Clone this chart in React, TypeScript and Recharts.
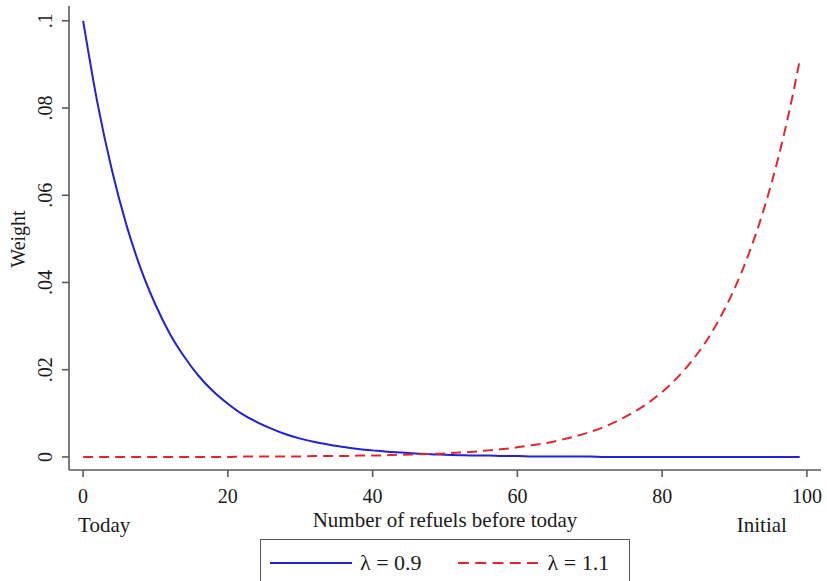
import { LineChart, Line, XAxis, YAxis, Legend } from 'recharts'

// number of refuels before today (0 = today, 99 = initial)
const refuels = [
  0, 2, 4, 6, 8, 10, 12, 14, 16, 18, 20, 22, 24, 26, 28, 30, 32, 34, 36, 38,
  40, 42, 44, 46, 48, 50, 52, 54, 56, 58, 60, 62, 64, 66, 68, 70, 72, 74, 76, 78,
  80, 82, 84, 86, 88, 90, 92, 94, 96, 98, 99,
]

// λ = 0.9, weight
const weightLow = [
  0.1, 0.081, 0.0656, 0.0531, 0.043, 0.0349, 0.0282, 0.0229, 0.0185, 0.015,
  0.0122, 0.0098, 0.008, 0.0065, 0.0052, 0.0042, 0.0034, 0.0028, 0.0023, 0.0018,
  0.0015, 0.0012, 0.001, 0.0008, 0.0006, 0.0005, 0.0004, 0.0003, 0.0003, 0.0002,
  0.0002, 0.0001, 0.0001, 0.0001, 0.0001, 0.0001, 0, 0, 0, 0,
  0, 0, 0, 0, 0, 0, 0, 0, 0, 0, 0,
]

// λ = 1.1, weight
const weightHigh = [
  0, 0, 0, 0, 0, 0, 0, 0, 0, 0,
  0, 0.0001, 0.0001, 0.0001, 0.0001, 0.0001, 0.0002, 0.0002, 0.0002, 0.0003,
  0.0003, 0.0004, 0.0005, 0.0006, 0.0007, 0.0008, 0.001, 0.0012, 0.0015, 0.0018,
  0.0022, 0.0027, 0.0032, 0.0039, 0.0047, 0.0057, 0.0069, 0.0084, 0.0102, 0.0123,
  0.0149, 0.018, 0.0218, 0.0263, 0.0319, 0.0386, 0.0467, 0.0565, 0.0683, 0.0826, 0.0909,
]

const xTicks = [0, 20, 40, 60, 80, 100]
const yTicks = [0, 0.02, 0.04, 0.06, 0.08, 0.1]
const yTickLabels = ['0', '.02', '.04', '.06', '.08', '.1']

const FONT = '"Liberation Serif", "Times New Roman", serif'
const INK = '#1a1a1a'
const FRAME = '#5a5a5a'
const X_DOMAIN: [number, number] = [-1.95, 101.95]
const Y_DOMAIN: [number, number] = [-0.003, 0.1034]

const series = [
  { key: 'low', name: 'λ = 0.9', color: '#2020dd', dash: undefined as string | undefined, legendDash: undefined as string | undefined },
  { key: 'high', name: 'λ = 1.1', color: '#e3262d', dash: '10 6', legendDash: '11 6.25' },
]

const data = refuels.map((n, i) => ({ n, low: weightLow[i], high: weightHigh[i] }))

function XTick({ x, y, payload }: any) {
  const v = payload.value
  return (
    <g fontFamily={FONT} fontSize={20} fill={INK}>
      <text x={x} y={y + 24} textAnchor="middle">{v}</text>
      {v === 0 && <text x={x - 5} y={y + 53} textAnchor="start" fontSize={21}>Today</text>}
      {v === 100 && <text x={x - 20} y={y + 53} textAnchor="end" fontSize={21}>Initial</text>}
    </g>
  )
}

function YTick({ x, y, payload }: any) {
  const i = yTicks.findIndex((t) => Math.abs(t - payload.value) < 1e-9)
  const bx = x - 8
  return (
    <text
      x={bx}
      y={y}
      transform={`rotate(-90, ${bx}, ${y})`}
      textAnchor="middle"
      fontFamily={FONT}
      fontSize={20}
      fill={INK}
    >
      {i >= 0 ? yTickLabels[i] : payload.value}
    </text>
  )
}

function XTitle({ viewBox }: any) {
  const { x, y, width } = viewBox
  return (
    <text x={x + width / 2} y={y + 57} textAnchor="middle" fontFamily={FONT} fontSize={21} fill={INK}>
      Number of refuels before today
    </text>
  )
}

function YTitle({ viewBox }: any) {
  const { y, height } = viewBox
  const cx = 25
  const cy = y + height / 2 + 1
  return (
    <text x={cx} y={cy} transform={`rotate(-90, ${cx}, ${cy})`} textAnchor="middle" fontFamily={FONT} fontSize={20} fill={INK}>
      Weight
    </text>
  )
}

function LegendBox({ payload }: any) {
  return (
    <div
      style={{
        boxSizing: 'border-box',
        width: 370,
        height: 47,
        border: `1.5px solid ${FRAME}`,
        background: '#fff',
        display: 'flex',
        alignItems: 'center',
        paddingLeft: 9,
        fontFamily: FONT,
        fontSize: 22,
        color: INK,
      }}
    >
      {(payload || []).map((entry: any, i: number) => {
        const s = series.find((d) => d.key === entry.dataKey) || series[i]
        return (
          <div key={i} style={{ display: 'flex', alignItems: 'center', marginRight: i === 0 ? 36 : 0 }}>
            <svg width={82} height={6} style={{ display: 'block' }}>
              <line x1={0} y1={3} x2={82} y2={3} stroke={s.color} strokeWidth={2} strokeDasharray={s.legendDash} />
            </svg>
            <span style={{ marginLeft: 8, lineHeight: '22px' }}>{entry.value}</span>
          </div>
        )
      })}
    </div>
  )
}

export default function App() {
  return (
    <div style={{ position: 'absolute', left: 0, top: 0, width: 827, height: 581, background: '#fff', overflow: 'hidden' }}>
      <LineChart
        width={827}
        height={581}
        data={data}
        margin={{ top: 6, right: 6, bottom: 0, left: 0 }}
        style={{ fontFamily: FONT }}
      >
        <XAxis
          dataKey="n"
          type="number"
          domain={X_DOMAIN}
          allowDataOverflow
          ticks={xTicks}
          interval={0}
          height={111}
          tickSize={7}
          tickMargin={2}
          axisLine={{ stroke: FRAME, strokeWidth: 1.6 }}
          tickLine={{ stroke: FRAME, strokeWidth: 1.6 }}
          tick={<XTick />}
          label={{ content: <XTitle /> }}
        />
        <XAxis
          xAxisId="top"
          orientation="top"
          type="number"
          domain={X_DOMAIN}
          allowDataOverflow
          height={0}
          tick={false}
          tickLine={false}
          axisLine={{ stroke: FRAME, strokeWidth: 1.6 }}
        />
        <YAxis
          type="number"
          domain={Y_DOMAIN}
          allowDataOverflow
          ticks={yTicks}
          interval={0}
          width={69}
          tickSize={7}
          tickMargin={2}
          axisLine={{ stroke: FRAME, strokeWidth: 1.6 }}
          tickLine={{ stroke: FRAME, strokeWidth: 1.6 }}
          tick={<YTick />}
          label={{ content: <YTitle /> }}
        />
        <YAxis
          yAxisId="right"
          orientation="right"
          type="number"
          domain={Y_DOMAIN}
          allowDataOverflow
          width={0}
          tick={false}
          tickLine={false}
          axisLine={{ stroke: FRAME, strokeWidth: 1.6 }}
        />
        <Legend
          layout="horizontal"
          verticalAlign="middle"
          align="center"
          wrapperStyle={{ left: 260, top: 539, width: 370, height: 47 }}
          content={<LegendBox />}
        />
        {series.map((s) => (
          <Line
            key={s.key}
            type="monotone"
            dataKey={s.key}
            name={s.name}
            stroke={s.color}
            strokeWidth={2}
            strokeDasharray={s.dash}
            dot={false}
            activeDot={false}
            isAnimationActive={false}
          />
        ))}
      </LineChart>
    </div>
  )
}
